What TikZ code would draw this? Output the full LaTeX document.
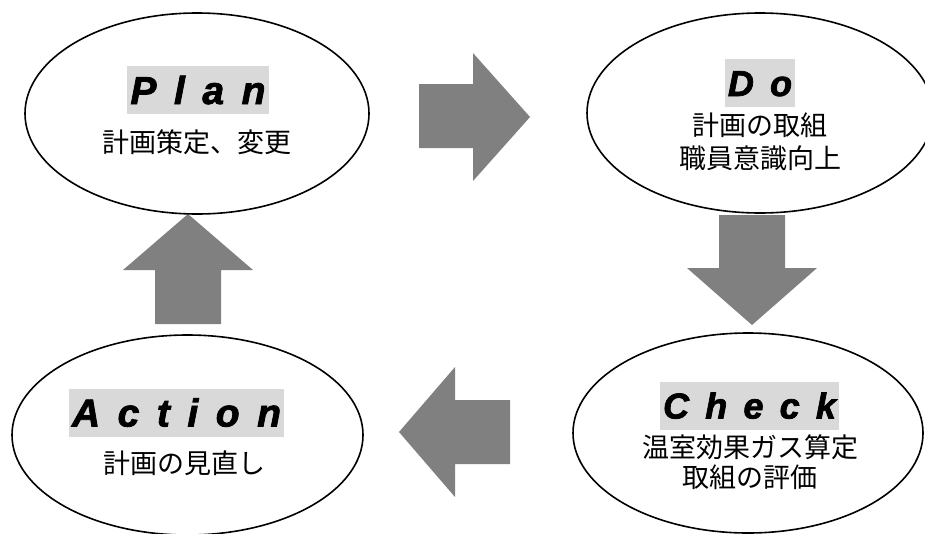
\documentclass[tikz,border=0pt]{standalone}
\usepackage{fontspec}
\usetikzlibrary{shapes.geometric}
\newfontfamily\jpfont{Noto Sans CJK JP}
\newfontfamily\headfont[LetterSpace=45, BoldItalicFeatures={FakeBold=2}]{Liberation Sans}
\definecolor{arrowgray}{HTML}{808080}
\definecolor{headbg}{HTML}{D9D9D9}
\tikzset{
  phase/.style={ellipse, draw=black, line width=1.6pt, inner sep=0pt},
  headbox/.style={fill=headbg, inner xsep=3pt, inner ysep=0pt, minimum height=48pt, text depth=0pt},
  bighead/.style={headbox, text height=28pt, font=\headfont\bfseries\itshape\fontsize{39}{42}\selectfont},
  smallhead/.style={headbox, text height=26pt, font=\headfont\bfseries\itshape\fontsize{36}{40}\selectfont},
  desc/.style={font=\jpfont\fontsize{27}{33}\selectfont, align=center, inner sep=0pt},
  blockarrow/.style={fill=arrowgray}
}
\begin{document}
\begin{tikzpicture}[x=1pt,y=-1pt]
\useasboundingbox (0,0) rectangle (925,533);
% block arrows
\fill[blockarrow] (419,84) -- (473,84) -- (473,53) -- (530,117) -- (473,181) -- (473,148) -- (419,148) -- cycle;
\fill[blockarrow] (719,215) -- (785,215) -- (785,268) -- (817,268) -- (752,325) -- (687,268) -- (719,268) -- cycle;
\fill[blockarrow] (510,400) -- (455,400) -- (455,367) -- (399,432) -- (455,497) -- (455,464) -- (510,464) -- cycle;
\fill[blockarrow] (155,324) -- (155,270) -- (123,270) -- (188,214) -- (253,270) -- (221,270) -- (221,324) -- cycle;
% ellipses
\node[phase, minimum width=344pt, minimum height=201pt] (plan) at (197,113.5) {};
\node[phase, minimum width=346pt, minimum height=200pt] (do) at (760,113) {};
\node[phase, minimum width=350pt, minimum height=200pt] (check) at (748,433) {};
\node[phase, minimum width=351pt, minimum height=200pt] (action) at (187.5,435) {};
% headings
\node[bighead] (planh) at (198,90) {Plan};
\node[smallhead] (doh) at (760,83) {Do};
\node[smallhead] (checkh) at (749.5,405.5) {Check};
\node[bighead] (actionh) at (176.5,412.5) {Action};
% descriptions
\node[desc] (plant) at (197,142) {計画策定、変更};
\node[desc] (dot) at (760,142) {計画の取組\\職員意識向上};
\node[desc] (checkt) at (750,462) {温室効果ガス算定\\[-3pt]取組の評価};
\node[desc] (actiont) at (184,463) {計画の見直し};
\end{tikzpicture}
\end{document}
